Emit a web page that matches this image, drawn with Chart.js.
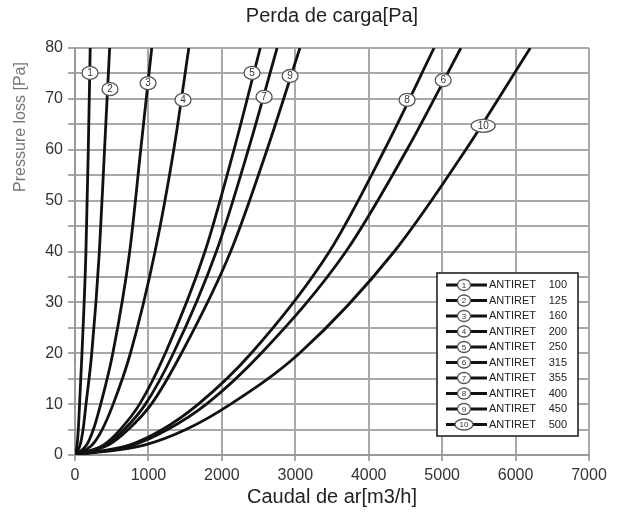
<!DOCTYPE html>
<html>
<head>
<meta charset="utf-8">
<script src="https://cdn.jsdelivr.net/npm/chart.js@4.4.1/dist/chart.umd.min.js"></script>
<style>
  body { margin: 0; background: #fff; }
</style>
</head>
<body>
<canvas id="myChart" width="619" height="520"></canvas>
<script>
// pressure levels (Pa) at which the flow of each curve was read
var paLevels = [0, 2, 5, 10, 20, 40, 60, 80];

// air flow (m3/h) for each curve at the levels above
var flow1  = [0, 28, 45, 62, 95, 149, 181, 207];
var flow2  = [0, 70, 110, 150, 228, 332, 402, 472];
var flow3  = [0, 160, 250, 350, 515, 745, 895, 1045];
var flow4  = [0, 235, 370, 520, 755, 1090, 1345, 1550];
var flow5  = [0, 390, 615, 880, 1230, 1770, 2165, 2523];
var flow6  = [0, 800, 1260, 1790, 2536, 3690, 4520, 5255];
var flow7  = [0, 425, 670, 960, 1340, 1925, 2360, 2752];
var flow8  = [0, 750, 1190, 1680, 2400, 3465, 4215, 4890];
var flow9  = [0, 460, 725, 1040, 1450, 2120, 2615, 3063];
var flow10 = [0, 955, 1510, 2120, 3057, 4348, 5322, 6200];

var curveIds = ['1', '2', '3', '4', '5', '6', '7', '8', '9', '10'];
var curveSizes = ['100', '125', '160', '200', '250', '315', '355', '400', '450', '500'];
var productName = 'ANTIRET';

// where the number tags sit on each curve
var tagFlow = [204, 477, 995, 1471, 2411, 5014, 2575, 4523, 2929, 5559];
var tagPa   = [75.1, 71.9, 73.1, 69.8, 75.1, 73.7, 70.4, 69.8, 74.5, 64.7];

var xTicks = [0, 1000, 2000, 3000, 4000, 5000, 6000, 7000];
var yTicks = [0, 10, 20, 30, 40, 50, 60, 70, 80];

var allFlows = [flow1, flow2, flow3, flow4, flow5, flow6, flow7, flow8, flow9, flow10];
var FONT = "'Liberation Sans', Arial, sans-serif";

function tag(ctx, x, y, txt, rx, ry, size) {
    ctx.save();
    ctx.beginPath();
    ctx.ellipse(x, y, rx, ry, 0, 0, Math.PI * 2);
    ctx.fillStyle = '#fff';
    ctx.fill();
    ctx.lineWidth = 1.3;
    ctx.strokeStyle = '#555';
    ctx.stroke();
    ctx.fillStyle = '#333';
    ctx.font = size + 'px ' + FONT;
    ctx.textAlign = 'center';
    ctx.textBaseline = 'middle';
    ctx.fillText(txt, x, y + 0.5);
    ctx.restore();
}

var curveTags = {
    id: 'curveTags',
    afterDatasetsDraw: function(chart) {
        var ctx = chart.ctx;
        var xs = chart.scales.x, ys = chart.scales.y;
        for (var i = 0; i < curveIds.length; i++) {
            var px = xs.getPixelForValue(tagFlow[i]);
            var py = ys.getPixelForValue(tagPa[i]);
            var wide = curveIds[i].length > 1;
            tag(ctx, px, py, curveIds[i], wide ? 12 : 8, 6.5, 10);
        }
    }
};

var boxLegend = {
    id: 'boxLegend',
    afterDraw: function(chart) {
        var ctx = chart.ctx;
        var a = chart.chartArea;
        var right = a.right - 11, bottom = a.bottom - 19;
        var w = 141, rowH = 15.5, h = rowH * curveIds.length + 8;
        var left = right - w, top = bottom - h;
        ctx.save();
        ctx.fillStyle = '#fff';
        ctx.fillRect(left, top, w, h);
        ctx.lineWidth = 1.6;
        ctx.strokeStyle = '#222';
        ctx.strokeRect(left, top, w, h);
        for (var i = 0; i < curveIds.length; i++) {
            var y = top + 12 + i * rowH;
            ctx.beginPath();
            ctx.moveTo(left + 9, y);
            ctx.lineTo(left + 50, y);
            ctx.lineWidth = 3;
            ctx.strokeStyle = '#111';
            ctx.stroke();
            var wide = curveIds[i].length > 1;
            tag(ctx, left + 27, y, curveIds[i], wide ? 9 : 6.5, 5.5, 8);
            ctx.fillStyle = '#222';
            ctx.font = '11px ' + FONT;
            ctx.textBaseline = 'middle';
            ctx.textAlign = 'left';
            ctx.fillText(productName, left + 52, y);
            ctx.textAlign = 'right';
            ctx.fillText(curveSizes[i], right - 11, y);
        }
        ctx.restore();
    }
};

// top title centred on the plot, y title pushed up to the top like the scan
var titles = {
    id: 'titles',
    afterDraw: function(chart) {
        var ctx = chart.ctx;
        var a = chart.chartArea;
        ctx.save();
        ctx.fillStyle = '#222';
        ctx.font = '20px ' + FONT;
        ctx.textAlign = 'center';
        ctx.textBaseline = 'middle';
        ctx.fillText('Perda de carga[Pa]', (a.left + a.right) / 2, 16);
        ctx.translate(21, a.top + 79);
        ctx.rotate(-Math.PI / 2);
        ctx.fillStyle = '#777';
        ctx.font = '16px ' + FONT;
        ctx.fillText('Pressure loss [Pa]', 0, 0);
        ctx.restore();
    }
};

var datasets = [];
for (var i = 0; i < allFlows.length; i++) {
    var pts = [];
    for (var j = 0; j < paLevels.length; j++) {
        pts.push({x: allFlows[i][j], y: paLevels[j]});
    }
    datasets.push({
        label: productName + ' ' + curveSizes[i],
        data: pts,
        borderColor: '#111',
        borderWidth: 2.8,
        pointRadius: 0,
        fill: false,
        cubicInterpolationMode: 'monotone'
    });
}

var ctx = document.getElementById('myChart');
var myChart = new Chart(ctx, {
    type: 'line',
    data: {datasets: datasets},
    plugins: [curveTags, boxLegend, titles],
    options: {
        responsive: false,
        animation: false,
        layout: {padding: {left: 0, right: 30, top: 48, bottom: 0}},
        plugins: {
            legend: {display: false},
            tooltip: {enabled: false},
            title: {display: false}
        },
        scales: {
            x: {
                type: 'linear',
                min: 0,
                max: 7000,
                ticks: {
                    stepSize: 500,
                    color: '#333',
                    padding: 5,
                    maxRotation: 0,
                    font: {family: FONT, size: 16},
                    callback: function(v) { return xTicks.indexOf(v) >= 0 ? String(v) : ''; }
                },
                grid: {color: '#a8a8a8', lineWidth: 2, tickLength: 6},
                border: {color: '#999', width: 2},
                title: {
                    display: true,
                    text: 'Caudal de ar[m3/h]',
                    color: '#222',
                    font: {family: FONT, size: 20},
                    padding: {top: 0, bottom: 11}
                },
                afterFit: function(s) { s.height = 65; }
            },
            y: {
                min: 0,
                max: 80,
                ticks: {
                    stepSize: 5,
                    color: '#333',
                    padding: 5,
                    font: {family: FONT, size: 16},
                    callback: function(v) { return yTicks.indexOf(v) >= 0 ? String(v) : ''; }
                },
                grid: {color: '#a8a8a8', lineWidth: 2, tickLength: 7},
                border: {color: '#999', width: 2},
                afterFit: function(s) { s.width = 75; }
            }
        }
    }
});
</script>
</body>
</html>
